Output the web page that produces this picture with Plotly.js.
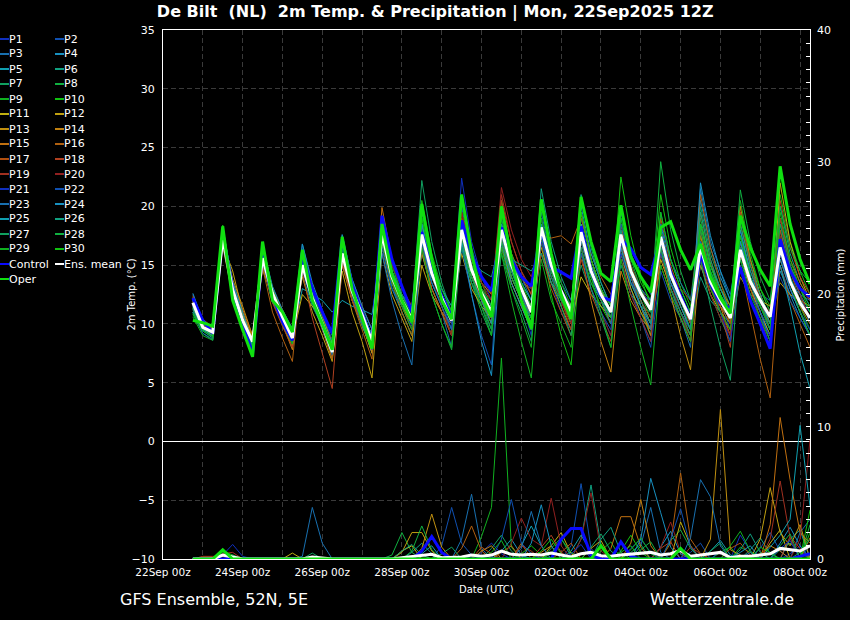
<!DOCTYPE html>
<html><head><meta charset="utf-8">
<script src="https://cdn.plot.ly/plotly-3.0.1.min.js"></script>
<style>html,body{margin:0;padding:0;background:#000;}#chart{width:850px;height:620px;}</style>
</head><body><div id="chart"></div>
<script>
// time grid: GFS 12Z run, 6-hourly from 22Sep 18Z to 08Oct 06Z
const runStart = '2025-09-22T18:00:00Z';
const stepHours = 6;
const nSteps = 63;

const memberNames = ['P1','P2','P3','P4','P5','P6','P7','P8','P9','P10','P11','P12','P13','P14','P15','P16','P17','P18','P19','P20','P21','P22','P23','P24','P25','P26','P27','P28','P29','P30'];
const memberColors = ['#1030c0','#1050b0','#1870b0','#1890c0','#10a0b0','#10a080','#10a060','#10b040','#10b020','#10c010','#c0b010','#c0a010','#c09010','#c08010','#c07010','#b06010','#b05010','#b04020','#a03020','#902020','#1030c0','#1050b0','#1870b0','#1890c0','#10a0b0','#10a080','#10a060','#10b040','#10b020','#10c010'];

// 2m temperature (°C)
const tempP1 = [12.0,9.8,9.0, 17.0,12.5,10.2,8.0, 15.2,12.0,10.0,8.4, 14.6,11.8,9.6,7.2, 15.5,12.2,10.0,7.5, 17.0,13.5,11.5,9.8, 18.5,15.0,12.5,10.5, 22.4,17.0,14.0,12.0, 19.0,15.0,12.0,9.0, 17.0,13.5,11.0,9.5, 16.5,13.0,11.0,9.0, 15.5,12.5,10.5,8.5, 16.0,13.5,12.0,11.0, 18.0,14.5,12.0,9.5, 15.0,12.0,10.5,9.0, 17.0,14.0,12.0,11.0];
const tempP2 = [12.5,10.2,9.5, 17.8,13.2,10.5,8.2, 16.0,12.8,10.8,9.0, 15.5,12.5,10.2,8.0, 16.5,13.0,11.0,8.8, 18.5,14.5,12.0,10.0, 16.5,13.5,11.5,9.5, 17.5,14.0,11.5,9.0, 16.5,14.5,13.5,13.0, 17.5,15.0,13.0,11.5, 19.0,15.5,13.0,10.5, 17.0,13.0,10.5,8.0, 14.5,12.0,10.5,9.0, 15.0,12.5,10.5,8.5, 16.5,14.0,12.5,12.0, 15.0,12.5,11.5,10.5];
const tempP3 = [11.5,9.5,9.2, 17.2,12.8,10.0,8.3, 15.0,11.8,10.4,9.2, 16.8,13.2,10.8,8.2, 17.0,13.8,11.5,9.5, 17.8,13.0,11.5,10.5, 16.0,13.0,11.0,8.0, 20.0,15.5,13.0,11.5, 18.0,15.5,14.0,12.0, 19.5,15.5,12.5,10.0, 17.0,14.0,12.0,10.5, 19.5,16.0,14.0,12.5, 16.5,13.0,10.5,8.0, 21.5,17.0,14.5,12.5, 17.5,14.0,12.0,10.0, 19.0,15.0,12.5,10.0];
const tempP4 = [11.0,9.4,8.8, 16.8,12.2,10.0,7.8, 15.4,12.2,10.2,8.6, 15.2,12.0,10.0,7.8, 16.2,12.6,10.5,8.5, 17.5,14.0,12.0,10.0, 18.0,14.5,12.5,11.0, 17.0,14.0,12.5,11.0, 18.5,15.0,12.5,10.0, 18.0,14.5,12.0,10.0, 16.0,13.5,12.0,11.0, 18.0,15.0,13.0,11.5, 18.5,14.5,12.0,10.0, 20.5,16.5,14.0,12.0, 18.0,14.5,12.0,9.5, 14.5,12.5,10.5,9.0];
const tempP5 = [12.0,10.0,9.4, 17.5,13.0,10.6,8.6, 16.2,12.6,10.5,8.8, 13.0,12.5,12.0,11.0, 12.0,11.5,11.2,10.8, 16.5,13.0,11.0,9.0, 17.0,13.5,11.5,9.0, 18.5,15.0,13.0,11.5, 17.0,14.0,12.0,10.5, 16.0,13.5,12.5,11.5, 18.5,15.0,13.0,11.0, 16.5,13.5,11.5,9.5, 19.5,15.5,13.0,11.0, 17.0,14.0,12.5,11.0, 15.5,13.0,11.0,9.0, 18.0,14.5,12.5,11.0];
const tempP6 = [11.2,9.6,8.9, 18.0,13.5,10.4,7.6, 16.5,12.5,10.8,9.0, 14.2,11.5,9.8,7.5, 15.6,12.0,9.8,7.8, 18.0,14.0,11.5,9.5, 19.0,15.0,12.5,10.5, 16.5,13.5,12.0,10.5, 17.5,14.0,12.0,10.0, 21.5,17.0,14.0,12.0, 18.0,14.5,12.5,10.5, 15.0,12.5,11.5,11.0, 16.0,13.0,11.0,9.0, 14.0,12.0,11.0,10.0, 17.5,14.5,12.5,10.5, 20.0,16.0,13.5,12.0];
const tempP7 = [11.6,10.0,9.6, 18.2,13.4,10.8,8.2, 16.8,13.0,11.0,9.2, 15.8,12.5,10.4,8.4, 16.8,13.2,11.0,8.8, 18.8,15.0,12.5,10.8, 22.2,17.0,13.5,11.0, 19.0,15.0,12.5,10.0, 16.0,13.0,11.0,8.5, 17.5,14.5,12.5,11.0, 15.0,12.5,11.5,11.0, 16.0,13.0,11.0,9.0, 18.0,14.0,11.5,9.5, 20.0,16.0,13.5,11.5, 19.0,15.5,13.0,11.0, 16.0,13.0,11.0,9.5];
const tempP8 = [10.8,9.2,8.7, 17.6,12.6,10.2,7.4, 15.8,12.3,10.4,8.5, 15.4,12.3,10.2,8.0, 16.4,13.0,10.8,8.6, 17.2,13.5,11.0,9.0, 16.5,12.5,10.0,7.8, 17.0,13.5,11.0,9.0, 19.0,15.5,13.5,12.0, 18.5,15.0,12.5,10.5, 19.5,15.5,13.0,11.0, 18.5,15.0,13.0,11.0, 23.8,18.0,14.5,12.0, 19.0,15.0,12.5,10.0, 16.0,13.0,11.5,10.0, 18.5,15.0,13.0,11.5];
const tempP9 = [11.4,9.8,9.1, 18.0,12.8,9.8,7.2, 16.0,12.0,10.2,8.2, 15.0,12.0,9.8,7.4, 15.8,12.5,10.4,8.0, 17.5,14.0,12.0,10.5, 18.0,14.5,12.0,10.0, 18.5,14.5,12.0,9.5, 16.0,12.0,8.5,5.4, 15.5,12.0,10.0,8.0, 17.5,14.0,12.0,10.0, 19.0,15.0,12.5,10.5, 17.0,14.0,12.0,10.5, 15.5,12.5,10.5,8.5, 20.5,16.0,13.0,11.0, 17.5,14.0,11.5,9.5];
const tempP10 = [11.0,9.5,9.0, 18.4,13.0,10.0,7.5, 16.6,12.7,10.6,9.0, 16.0,12.8,10.5,8.2, 17.5,13.5,11.2,9.0, 19.0,15.0,12.5,10.5, 20.5,16.0,13.0,11.0, 21.0,16.5,13.5,11.5, 20.5,16.0,13.0,11.0, 17.0,12.5,9.0,6.5, 16.5,13.5,11.5,10.0, 20.0,16.0,13.5,12.0, 21.0,16.5,13.5,11.5, 17.5,14.5,12.5,11.0, 19.5,15.5,13.0,11.5, 21.0,17.0,14.5,12.5];
const tempP11 = [11.8,9.9,9.3, 17.0,13.0,10.8,8.8, 15.0,12.0,10.4,8.8, 12.5,11.5,10.5,8.5, 15.0,12.0,10.0,7.5, 16.5,13.5,11.5,10.0, 17.5,14.0,12.0,10.5, 16.0,13.0,11.5,10.5, 17.5,14.5,12.5,10.5, 18.0,14.5,12.0,10.0, 14.0,12.5,11.5,10.5, 17.0,14.0,12.0,10.0, 15.5,13.0,11.0,9.5, 18.5,15.0,13.0,11.5, 16.0,13.0,11.0,9.0, 22.0,17.0,14.0,12.0];
const tempP12 = [12.3,10.1,9.5, 16.8,14.5,11.0,8.8, 14.6,12.4,11.0,9.4, 14.0,11.0,9.0,6.8, 14.5,11.0,8.5,5.4, 16.0,12.5,10.5,8.5, 15.0,12.5,11.0,10.0, 17.5,14.0,12.0,10.0, 16.5,13.5,11.5,9.5, 17.0,14.0,12.5,11.5, 19.5,15.5,13.0,11.0, 16.0,13.0,11.0,9.5, 17.5,14.0,12.0,10.0, 15.0,12.5,11.0,9.5, 14.0,12.5,12.0,11.5, 13.5,12.5,12.0,11.5];
const tempP13 = [11.3,9.7,9.2, 17.4,13.8,11.5,9.0, 15.5,12.0,10.0,8.0, 15.0,12.0,9.6,7.0, 16.0,12.5,10.0,7.6, 18.0,14.5,12.5,11.0, 17.0,14.0,12.0,10.5, 19.0,15.5,13.0,11.0, 18.5,15.0,13.0,11.5, 16.5,13.5,11.5,9.5, 18.5,14.5,12.0,10.0, 17.5,14.0,11.5,9.0, 16.5,12.5,9.0,6.1, 16.0,13.0,11.5,10.5, 18.5,15.0,12.5,10.5, 15.5,13.0,11.0,9.0];
const tempP14 = [11.9,9.6,9.0, 16.6,12.4,10.2,7.9, 15.8,12.4,10.0,7.8, 15.6,12.6,10.6,8.6, 16.8,13.0,10.5,8.0, 17.0,13.5,11.5,10.0, 16.0,13.0,11.0,9.0, 18.0,15.0,13.5,12.5, 17.0,14.0,12.0,10.0, 18.5,15.0,12.5,10.5, 16.0,12.0,8.5,5.9, 14.5,12.0,10.5,9.5, 16.5,13.5,11.5,9.5, 17.5,14.0,11.5,9.0, 20.0,15.5,12.5,10.0, 16.5,13.5,11.5,10.0];
const tempP15 = [12.1,10.4,9.7, 17.2,13.5,11.2,9.0, 15.6,13.0,11.2,9.4, 14.8,12.0,10.0,7.8, 17.0,13.5,11.0,8.8, 19.9,15.5,13.0,11.5, 18.5,14.5,12.0,10.0, 17.5,14.0,12.0,10.5, 19.5,16.0,14.0,12.5, 17.5,14.5,12.5,11.0, 17.0,14.0,12.0,10.0, 18.5,14.5,12.0,10.0, 15.0,12.5,10.5,8.5, 16.5,13.5,11.5,10.0, 17.0,14.0,12.0,10.5, 19.0,15.5,13.5,12.0];
const tempP16 = [11.7,9.7,9.1, 17.0,12.6,9.8,7.6, 14.8,11.0,8.8,6.8, 15.2,12.0,9.5,7.0, 15.8,12.0,9.5,7.0, 17.5,13.5,11.0,9.0, 16.5,13.0,11.0,9.0, 18.5,15.0,13.0,11.0, 17.0,13.5,11.5,9.5, 17.5,17.3,17.5,16.8, 19.0,16.0,14.0,12.5, 17.0,14.0,12.0,10.0, 19.0,15.0,12.5,10.5, 21.0,16.5,13.5,11.0, 15.0,11.0,7.0,3.7, 15.0,12.0,10.0,8.0];
const tempP17 = [12.2,10.0,9.3, 17.6,13.2,10.6,8.0, 16.2,12.8,11.0,9.6, 15.6,12.2,9.8,7.4, 16.6,13.0,10.8,8.2, 18.2,14.5,12.0,10.0, 18.5,15.0,12.5,10.5, 19.5,16.0,14.0,12.5, 18.0,14.5,12.5,10.5, 16.0,13.0,11.0,9.0, 17.5,14.5,12.5,11.0, 16.5,13.5,11.5,10.0, 18.0,14.5,12.0,10.0, 19.5,15.5,12.5,10.0, 16.5,13.0,10.5,8.0, 18.0,14.5,12.0,10.5];
const tempP18 = [11.9,9.9,9.4, 17.8,13.0,10.2,7.9, 15.2,11.8,9.8,8.0, 14.4,10.5,7.5,4.5, 15.2,12.0,10.0,7.8, 17.2,14.0,12.0,10.5, 17.5,14.5,12.5,10.5, 18.0,14.5,12.0,10.0, 20.5,17.0,14.5,12.5, 19.0,15.0,12.5,10.5, 15.5,12.5,10.5,8.5, 17.0,14.0,12.0,10.5, 16.0,13.0,11.0,9.0, 18.0,14.0,11.0,8.0, 19.5,15.0,12.0,9.5, 20.5,16.5,14.0,12.5];
const tempP19 = [12.4,10.2,9.6, 17.1,13.0,10.4,8.5, 15.6,12.2,10.4,8.7, 15.0,12.0,10.0,8.0, 16.0,12.8,10.5,8.4, 17.0,13.5,11.5,9.5, 18.0,14.5,12.5,11.0, 17.5,14.5,13.0,12.0, 21.0,17.0,14.5,13.0, 18.0,14.5,12.0,9.5, 18.0,15.0,13.0,11.5, 15.5,12.5,10.5,8.5, 17.5,14.5,13.0,12.0, 16.0,13.0,11.0,9.0, 17.0,13.5,11.0,8.5, 19.0,15.0,12.5,10.5];
const tempP20 = [11.6,9.7,9.2, 17.4,12.8,10.1,7.7, 16.0,12.6,10.6,8.9, 15.3,12.3,10.1,7.9, 16.2,13.5,11.5,9.5, 18.0,15.0,13.0,11.5, 17.5,14.0,11.5,9.0, 19.5,15.5,13.5,12.0, 21.6,18.0,15.5,14.0, 17.0,14.0,12.0,10.0, 16.5,13.0,11.0,9.0, 18.0,15.0,13.0,11.5, 17.0,13.5,11.0,8.5, 15.5,12.5,10.5,9.0, 16.0,13.5,12.0,11.0, 17.5,14.5,13.0,12.0];
const tempP21 = [11.5,9.6,9.2, 17.3,12.9,10.3,8.4, 15.4,12.5,10.8,9.1, 15.9,12.6,10.4,8.1, 16.4,12.8,10.5,8.2, 18.3,14.5,12.5,11.0, 17.0,14.0,12.0,10.0, 18.5,15.0,13.0,11.5, 18.0,14.5,12.5,11.0, 17.0,14.0,12.5,11.0, 17.5,14.5,12.5,11.0, 16.0,13.5,12.5,12.0, 16.5,13.0,11.0,9.5, 16.5,13.5,11.0,8.5, 14.5,12.0,10.5,9.0, 16.0,13.0,11.0,9.5];
const tempP22 = [12.2,10.1,9.4, 17.5,13.2,10.5,8.1, 16.4,12.9,10.8,9.2, 16.4,13.0,10.9,8.6, 17.4,13.5,11.0,8.8, 16.5,13.0,11.5,10.5, 18.0,14.5,12.0,9.5, 16.5,12.5,9.0,6.5, 18.5,15.0,13.0,11.5, 19.0,15.5,13.5,12.0, 16.0,13.0,11.0,9.5, 18.5,15.5,14.0,13.0, 16.0,13.5,12.0,11.0, 17.0,14.0,12.0,10.5, 15.0,12.5,11.0,9.5, 14.0,12.0,10.5,9.0];
const tempP23 = [11.0,9.2,8.6, 16.9,12.5,10.0,7.9, 15.3,12.0,10.2,8.5, 14.8,11.8,9.6,7.4, 16.0,12.5,10.0,7.8, 16.0,12.0,9.0,6.5, 17.0,13.5,11.5,9.5, 18.0,14.5,12.5,11.0, 17.5,14.5,12.5,10.5, 18.5,15.0,12.5,10.5, 17.0,14.0,12.0,10.0, 17.5,14.0,11.5,9.5, 18.5,15.5,13.5,12.0, 17.0,14.0,12.0,10.5, 17.0,13.5,11.0,8.5, 16.5,13.5,12.5,12.0];
const tempP24 = [12.6,10.3,9.7, 18.1,13.6,11.0,8.4, 16.6,13.2,11.2,9.6, 16.8,13.5,11.2,9.0, 17.6,13.8,11.5,9.5, 18.5,14.5,12.0,10.0, 18.5,15.0,12.5,10.5, 17.0,12.5,8.5,5.6, 17.0,13.5,11.5,9.5, 18.5,15.0,12.5,10.5, 20.0,16.0,13.5,11.5, 17.0,14.5,13.0,12.0, 16.5,13.5,11.5,9.5, 22.0,17.5,14.5,12.0, 18.0,14.0,11.5,9.5, 15.5,13.0,11.0,9.0];
const tempP25 = [11.3,9.5,9.0, 17.0,12.7,10.2,8.1, 15.7,12.5,10.6,8.9, 15.5,12.4,10.3,8.3, 16.6,13.2,11.2,9.0, 17.5,14.0,12.0,10.0, 18.5,15.0,13.0,11.5, 17.5,14.0,12.0,10.0, 18.5,15.5,13.5,12.0, 17.5,14.5,12.5,11.0, 18.5,15.0,13.0,11.5, 16.5,13.5,11.5,10.0, 17.5,14.0,12.0,10.5, 18.5,15.0,13.0,11.0, 17.0,14.0,12.0,10.0, 15.0,11.5,7.5,4.5];
const tempP26 = [11.8,9.8,9.3, 17.7,13.1,10.4,8.0, 16.3,12.8,10.7,9.0, 15.1,12.1,10.0,7.7, 16.7,13.2,11.0,9.0, 18.0,14.5,12.5,11.0, 17.5,14.0,12.0,10.5, 18.5,15.5,14.5,14.0, 17.5,15.5,15.0,14.5, 16.0,13.5,12.0,11.5, 21.0,16.5,13.5,11.5, 18.0,14.5,12.0,10.0, 17.0,14.0,12.0,10.5, 19.5,15.5,13.0,11.0, 18.5,15.0,12.5,10.5, 17.0,14.0,12.0,10.5];
const tempP27 = [12.0,10.0,9.4, 17.9,13.0,10.1,7.6, 16.1,12.3,10.3,8.6, 15.7,12.4,10.2,8.0, 17.2,13.2,10.8,8.6, 17.0,14.0,12.5,11.5, 17.5,14.5,12.5,11.0, 16.5,13.5,11.5,9.5, 18.0,14.5,12.0,9.5, 17.5,14.0,11.5,9.0, 16.5,13.0,10.5,8.0, 17.5,14.5,12.5,11.0, 18.0,14.5,12.0,9.5, 15.5,11.5,8.0,5.2, 16.5,13.5,11.5,10.0, 18.5,15.0,13.0,11.5];
const tempP28 = [11.4,9.6,9.1, 18.0,13.3,10.5,7.8, 16.4,12.6,10.5,8.7, 15.4,12.2,10.0,7.8, 16.3,12.8,10.6,8.4, 17.8,14.0,12.0,10.5, 19.5,15.5,13.0,11.0, 18.0,15.0,13.0,11.5, 17.0,14.0,12.0,10.5, 18.0,14.5,12.0,10.5, 17.5,14.0,12.0,10.5, 19.0,15.5,13.0,11.0, 16.5,13.0,11.0,9.0, 18.0,14.5,12.5,11.0, 21.4,17.0,14.0,12.0, 20.0,16.5,14.5,13.5];
const tempP29 = [10.6,9.0,8.6, 17.9,12.6,9.8,7.3, 16.0,12.2,10.0,8.3, 15.7,12.3,9.9,7.6, 16.6,13.0,10.6,8.0, 17.0,13.5,11.5,9.5, 16.5,12.5,10.0,8.0, 17.5,14.0,11.5,9.0, 16.5,13.0,10.5,8.0, 19.0,15.0,12.5,10.5, 18.0,14.0,11.0,8.0, 15.5,11.5,8.0,4.8, 15.0,12.5,10.5,8.5, 16.5,13.0,11.0,9.5, 15.5,12.5,10.5,8.5, 17.0,13.5,11.0,9.0];
const tempP30 = [10.9,9.4,8.9, 18.3,13.2,10.2,7.4, 16.9,12.9,10.8,9.1, 16.2,12.8,10.4,8.1, 17.0,13.4,11.0,8.7, 18.5,14.5,12.0,10.0, 19.0,15.0,12.5,10.5, 20.5,16.0,13.0,11.0, 19.5,16.0,13.5,11.5, 20.0,16.0,13.5,11.5, 19.5,15.5,13.0,11.5, 22.5,17.5,14.0,11.5, 19.5,15.5,13.0,11.0, 18.5,15.0,12.5,10.5, 17.5,14.0,11.5,9.5, 19.5,15.5,13.0,11.0];
const tempControl = [12.2,10.3,9.2, 17.6,13.0,10.0,7.5, 15.8,12.4,10.2,8.6, 15.8,13.0,11.0,9.2, 17.2,13.3,11.0,8.6, 19.2,15.5,13.2,11.0, 17.8,14.5,12.4,10.6, 18.8,16.0,14.0,12.8, 18.2,15.5,14.0,13.2, 18.0,14.8,14.4,13.9, 18.3,14.5,12.3,12.0, 17.2,16.4,14.8,14.2, 17.4,14.4,12.4,10.4, 16.0,13.4,11.8,11.3, 14.8,12.0,10.0,7.9, 17.2,14.5,13.0,12.3];
const tempMean = [11.8,9.7,9.3, 17.3,12.9,10.3,8.5, 15.6,12.6,10.6,8.8, 15.0,12.2,10.0,7.6, 16.0,12.8,10.8,8.5, 17.7,14.0,12.0,10.4, 17.6,14.3,12.2,10.3, 18.0,14.6,12.6,11.0, 18.0,15.0,13.0,11.0, 18.2,15.0,12.8,11.0, 17.8,14.5,12.5,11.0, 17.6,14.5,12.6,11.2, 17.4,14.2,12.2,10.4, 16.6,13.6,12.0,10.5, 16.3,13.6,12.0,10.6, 16.5,13.6,11.8,10.5];
const tempOper = [10.3,10.1,9.8, 18.3,12.0,9.5,7.2, 17.0,12.0,11.0,9.3, 16.3,12.0,10.0,7.8, 17.4,13.0,10.5,7.9, 18.5,14.2,12.0,10.2, 20.2,15.5,12.0,10.4, 21.0,16.0,12.4,10.6, 20.0,15.5,12.0,9.6, 20.6,16.0,12.5,10.4, 20.8,17.0,14.3,13.6, 20.1,15.7,14.0,12.7, 18.2,18.7,16.3,14.6, 16.8,14.0,12.2,10.9, 19.2,16.5,14.6,13.2, 23.4,18.5,15.5,13.4];

// precipitation (mm per 6 h)
const precipP1 = [0,0,0, 0.3,1.1,0.2,0, 0,0,0,0, 0,0,0,0, 0,0,0,0, 0,0,0,0, 0,0,0,0, 0,0,0.5,1.2, 0.4,0,0,0, 0,0,0,0, 0,0,0,0, 0,0.8,1.5,0.5, 0,0,0,0, 0,0,0,0, 1.8,0.6,0,0, 0,0.4,1.0,0];
const precipP2 = [0,0,0, 0,0,0,0, 0,0,0,0, 0,0,0,0, 0,0,0,0, 0,0,0,0, 0,0,1.0,3.9, 1.2,0.3,0,0, 0,0,0,0, 0,0,0,1.0, 5.7,0.8,0,0, 0,0,0,0, 0,0,0,0.5, 1.2,0,0,0, 0,0,0.8,2.0, 0.6,0,0,0];
const precipP3 = [0,0,0, 0,0,0,0, 0,0,0,0, 0.2,3.9,1.2,0, 0,0,0,0, 0,0,0,0, 0,0,0,0, 1.5,4.9,0.8,0, 0,0,0,0, 0,0,0,0, 0,0,0,0, 0,0,1.0,3.9, 0.5,0,0,0, 0,0,0,0, 0,0,0,0, 0,0,2.0,3.0];
const precipP4 = [0,0,0, 0,0,0,0, 0,0,0,0, 0,0,0,0, 0,0,0,0, 0,0,0,0, 0,0,0,0, 0,0,0,0, 0.6,1.5,0.3,0, 0,0,0,0, 0,0,0,0, 0,0,0,0, 0.9,2.1,0.4,0, 0,0,0,0, 0,0,0,0, 1.2,2.4,1.0,0];
const precipP5 = [0,0,0, 0,0,0,0, 0,0,0,0, 0,0,0,0, 0,0,0,0, 0,0,0,0, 0,0,0,0, 0,0,0,0, 0,0,1.0,2.5, 1.0,0,0,0, 0,0,0,0, 0,0,0,0, 0,0,0,0, 0,0.6,1.4,0.3, 0,0,0,0, 0,1.5,2.2,0];
const precipP6 = [0,0,0, 0,0,0,0, 0,0,0,0, 0,0,0,0, 0,0,0,0, 0,0,0,0.5, 1.2,0.4,0,0, 0,0,0,0, 0,0,0,0, 0,0,0,0, 1.5,5.6,1.0,0, 0,0,0,0, 0,0,0,0, 0,0,0,0, 0,0.7,1.6,0.4, 0,0,0,0];
const precipP7 = [0,0,0, 0,0,0,0, 0,0,0,0, 0,0.45,0,0, 0,0,0,0, 0,0,0,0, 0,0,0,0, 0,0,0,0.8, 1.8,0.6,0,0, 0,0,0,0, 0,0,0,0, 0,0.5,1.1,0, 0,0,0,0, 0,0,0,0, 0,0,0,0, 0.7,1.2,0.5,0];
const precipP8 = [0,0,0, 0,0,0,0, 0,0,0,0, 0,0,0,0, 0,0,0,0, 0,0.3,2.0,0.5, 0,0,0,0, 0,0,0,0, 0,0,0,0, 0,0.8,1.6,0.2, 0,0,0,0, 0,0,0,0, 0,1.4,2.2,0.8, 0,0,0,0, 0,0,0,0, 0,0,0,2.6];
const precipP9 = [0,0,0, 0,0,0,0, 0,0,0,0, 0,0,0,0, 0,0,0,0, 0,0,0,0, 0,0,0,0, 0,0,1.7,3.9, 15.2,0.9,0,0, 0,0,0,0, 0,0,0.6,1.3, 0,0,0,0, 0,0,0,0, 0,0,0,0, 0.9,0.5,0,0, 0,0,0,0];
const precipP10 = [0,0,0, 0.2,0,0,0, 0,0,0,0, 0,0,0,0, 0,0,0,0, 0,0,0,0, 0,0,0,0, 0,0,0,0, 0,0,0.4,1.0, 0.3,0,0,0, 0,0,0,0, 0.6,1.8,0.5,0, 0,0,0,0, 0,0,0.5,0.9, 0,0,0,0, 0,0,0,3.7];
const precipP11 = [0,0,0, 0,0,0,0, 0,0,0,0.45, 0,0,0,0, 0,0,0,0, 0,0,0.6,1.0, 0,0,0,0, 0,0,0,0, 0,0,0,0, 0,1.0,2.0,0.4, 0,0,0,0, 0,0,0,0, 0,0,2.8,1.0, 0,0,0,0, 0,0,0,1.2, 2.2,0,0,0];
const precipP12 = [0,0,0, 0,0,0,0, 0,0,0,0, 0,0,0,0, 0,0,0,0, 0,0,0.5,2.0, 2.0,0.6,0,0, 0,0,0,0, 0,0,0,0, 0,0,0,0, 0,0.8,1.4,0, 0,0,0,0, 0,0,0,0, 0,0,0,0, 0,0,1.5,5.4, 2.0,1.0,2.6,0];
const precipP13 = [0,0,0, 0,0,0,0, 0,0,0,0, 0,0,0,0, 0,0,0,0, 0,0,0,0, 0.8,3.4,0.9,0, 0,0,0,0, 0,0,0,0, 0.5,1.0,0,0, 0,0,0,0, 0,0,0,0, 0,0,0,0, 0,1.5,11.3,0.7, 0.3,0,0,0, 0,0,0,0];
const precipP14 = [0,0,0, 0,0,0,0, 0,0,0,0, 0,0,0,0, 0,0,0,0, 0,0,0,0, 0,0,0,0, 0,0,0.6,1.0, 0,0,0,0, 0,0,0,0, 0,0,0,0, 0,1.2,4.5,1.0, 0,0,0,0, 0,0,0,0, 0,0,0.4,1.0, 0.6,0,0,1.6];
const precipP15 = [0,0,0, 0,0,0,0, 0,0,0,0, 0,0,0,0, 0,0,0,0, 0,0,0,0, 0,0,0,0, 0,0,0,0, 0.5,1.0,0,0, 0,0,0,0, 0,0,0,0.8, 3.2,3.2,0.9,0, 0,0,0,0, 0,0,0,0, 0,0,0,2.6, 10.7,6.0,2.0,1.2];
const precipP16 = [0,0,0, 0,0,0,0, 0,0,0,0, 0,0,0,0, 0,0,0,0, 0,0,0,0, 0,0,0,0, 0.8,2.5,0.6,0, 0,0,1.2,0, 0,0,0,0, 0,0,0,0, 0,0,0,0, 0,1.2,6.5,1.5, 0.4,0,0,0, 0,0,0,0, 0,0,0,0];
const precipP17 = [0,0,0, 0.3,0,0,0, 0,0,0,0, 0,0,0,0, 0,0,0,0, 0,0,0,0, 0,0,0,0, 0,0,0.9,0.4, 0,0,0,0, 0,0,0.5,1.2, 0,0,0,0, 0,0,0,0, 0,0,0,0, 0,0,0,0.8, 1.2,0.3,0,0, 0,0,0,0];
const precipP18 = [0,0.2,0.2, 0.2,0,0,0, 0,0,0,0, 0,0,0,0, 0,0,0,0, 0,0,0,0, 0,0,0,0, 0,0,0,0, 0,0,0,0, 0.9,1.8,0.5,0, 0,0,0,0, 0,0,0,0, 0.8,1.3,0,0, 0,0,0,0, 0,0,0,0, 0,1.7,0.8,0];
const precipP19 = [0,0,0, 0.4,0.5,0,0, 0,0,0,0, 0,0,0,0, 0,0,0,0, 0,0,0,0, 0,0,0,0, 0,0,0,0, 0,0,1.0,0.6, 0,0,0,0, 0,0,0,0, 0,0,0,0, 0,0,0,0.9, 0.4,0,0,0, 0,0,0,1.5, 5.9,1.6,0,0];
const precipP20 = [0,0,0, 0,0,0,0, 0,0,0,0, 0,0,0,0, 0,0,0,0, 0,0,0,0, 0,0,0,0, 0,0,0,0, 0,1.2,3.1,1.5, 1.0,4.6,1.0,0, 1.5,5.0,0.6,0, 0,0,0,0, 0.9,2.8,0.5,0, 0,0,0,0, 0,0,0,0, 0,0,1.5,9.0];
const precipP21 = [0,0,0.1, 0,0.3,0,0, 0,0,0,0, 0,0,0,0, 0,0,0,0, 0,0,0,0, 0,0,0,0, 0,0,0,0, 0,0,0,0, 0,0,0,0.4, 1.1,0,0,0, 0,0,0,0, 0,0,0,0, 0,0,0.6,0.2, 0,0,0,0, 0.8,1.4,0,0];
const precipP22 = [0,0,0, 0,0,0,0, 0,0,0,0, 0,0,0,0, 0,0,0,0, 0,0,0,0, 0,0,0,0, 0,0,0,0, 1.5,4.5,1.2,0.4, 0,0,0,0, 0,0,0,0, 0,0,0,0, 0,1.5,3.8,0.9, 0,0,0,0, 0,0,0,0, 0,0,0,1.1];
const precipP23 = [0,0,0, 0,0,0,0, 0,0,0,0, 0,0,0,0, 0,0,0,0, 0,0,0,0, 0,0,0,0, 0,0,0,0, 0,0,0.8,3.6, 1.0,0,0,0, 0,0,0,0, 0,0,0,0, 0,0,0,1.6, 6.0,4.7,1.0,0, 0,0.5,0,0, 0,0,0,0];
const precipP24 = [0,0,0, 0,0,0,0, 0,0,0,0, 0,0,0,0, 0,0,0,0, 0,0,0,0, 0,0,0,0, 0,0,0,0, 0,0,0,1.2, 4.1,1.0,0,0, 0,0,0,0, 0,0,1.5,6.1, 3.5,0.9,0,0, 0,0,0,0, 0.5,1.0,0,0, 0,0,0,0];
const precipP25 = [0,0,0, 0,0,0,0, 0,0,0,0, 0,0,0,0, 0,0,0,0, 0,0,0,0, 0.4,1.0,0,0, 0,0,0,0, 0,0,0,0, 0,0,0,0.6, 1.8,0.5,0,0, 0,0,0,0, 0,0,0,0, 0,0,0,0, 0,0,0,0.9, 1.8,3.0,10.1,4.0];
const precipP26 = [0,0,0, 0,0,0,0, 0,0,0,0, 0,0,0,0, 0,0,0,0, 0,0,0.6,1.1, 0.3,0,0,0, 0,0,0,0, 0,0,0,0, 0,0,0,0, 0,0,1.5,2.4, 0.5,0,0,0, 0,0,0,0, 0,0,0,0, 0.7,1.9,0.5,0, 0,0,0,0];
const precipP27 = [0,0,0, 0,0,0,0, 0,0,0,0, 0,0,0,0, 0,0,0,0, 0,0,0,0, 0,0,0.4,0.9, 0,0,0,0, 0,0,0,0, 0,0,0,0, 0,0.9,1.9,0.6, 0,0,0,0, 0,0,0,0, 0,0.6,1.2,0, 0,0,0,0, 0,0,0.5,1.5];
const precipP28 = [0,0,0, 0,0,0,0, 0,0,0,0, 0,0,0,0, 0,0,0,0, 0,0,0,0.6, 2.5,0.7,0,0, 0,0,0,0, 0,0,0,0, 0,0.4,1.5,0.5, 0,0,0,0, 0,0,0.7,1.3, 0,0,0,0, 0,0,0,0, 0,0,0,0, 1.0,1.9,0,0];
const precipP29 = [0,0,0, 0.5,0.2,0,0, 0,0,0,0, 0,0,0,0, 0,0,0,0, 0,0,0,0, 0,0,0,0, 0,0,0,0.5, 1.4,0,0,0, 0,0,0,0, 0,0,0,0, 0,0.7,1.6,0.4, 0,0,0,0, 0,0,0,1.0, 2.1,0.6,0,0, 0,0,0,0];
const precipP30 = [0,0,0, 0.6,0.3,0,0, 0,0,0,0, 0,0,0,0, 0,0,0,0, 0,0,0,0, 0,0,0,0, 0,0,0,0, 0,0,0,0, 0.6,1.5,0.4,0, 0,0,0,0, 0.5,1.0,0,0, 0,0,0,0, 0,0,0,0, 0,0,0.9,0.5, 0,0,0,2.0];
const precipControl = [0,0,0, 0,0,0,0, 0,0,0,0, 0,0,0,0, 0,0,0,0, 0,0,0,0, 0.6,1.7,0.5,0, 0,0,0,0, 0,0,0,0, 0,0,1.5,2.3, 2.3,0.3,0,0, 1.3,0.2,0,0, 0,0,0,0, 0,0,0,0, 0,0,0,0, 0,0,0.2,0.4];
const precipMean = [0,0,0, 0.3,0.15,0,0, 0,0,0,0, 0,0.15,0.05,0, 0,0,0,0, 0,0,0.1,0.2, 0.25,0.35,0.1,0.15, 0.15,0.3,0.2,0.3, 0.6,0.35,0.3,0.35, 0.3,0.45,0.3,0.15, 0.4,0.5,0.25,0.2, 0.3,0.35,0.4,0.5, 0.3,0.4,0.65,0.2, 0.3,0.4,0.5,0.1, 0.2,0.2,0.3,0.4, 0.8,0.7,0.6,1.0];
const precipOper = [0,0,0, 0.7,0,0,0, 0,0,0,0, 0,0,0,0, 0,0,0,0, 0,0,0,0, 0,0,0,0, 0,0,0,0, 0,0,0,0, 0,0,0,0, 0,0,1.0,0, 0,0,0,0, 0,0,0.8,0, 0,0,0,0, 0,0,0,0, 0,0,0,0];

const memberTemps = [tempP1,tempP2,tempP3,tempP4,tempP5,tempP6,tempP7,tempP8,tempP9,tempP10,tempP11,tempP12,tempP13,tempP14,tempP15,tempP16,tempP17,tempP18,tempP19,tempP20,tempP21,tempP22,tempP23,tempP24,tempP25,tempP26,tempP27,tempP28,tempP29,tempP30];
const memberPrecips = [precipP1,precipP2,precipP3,precipP4,precipP5,precipP6,precipP7,precipP8,precipP9,precipP10,precipP11,precipP12,precipP13,precipP14,precipP15,precipP16,precipP17,precipP18,precipP19,precipP20,precipP21,precipP22,precipP23,precipP24,precipP25,precipP26,precipP27,precipP28,precipP29,precipP30];

const specials = [
  {name:'Control', color:'#0a0aff', temp:tempControl, precip:precipControl},
  {name:'Ens. mean', color:'#ffffff', temp:tempMean, precip:precipMean},
  {name:'Oper', color:'#10e010', temp:tempOper, precip:precipOper}
];

const times = [];
for (let i = 0; i < nSteps; i++) {
  const d = new Date(Date.parse(runStart) + i * stepHours * 3600000);
  times.push(d.toISOString().slice(0,16).replace('T',' '));
}

const traces = [];
memberTemps.forEach((arr,k) => traces.push({x:times, y:arr, type:'scatter', mode:'lines', name:memberNames[k], line:{color:memberColors[k], width:1}, yaxis:'y', hoverinfo:'skip'}));
specials.forEach(s => traces.push({x:times, y:s.temp, type:'scatter', mode:'lines', name:s.name, line:{color:s.color, width:3}, yaxis:'y', hoverinfo:'skip'}));
memberPrecips.forEach((arr,k) => traces.push({x:times, y:arr, type:'scatter', mode:'lines', name:memberNames[k], line:{color:memberColors[k], width:1}, yaxis:'y2', hoverinfo:'skip'}));
specials.forEach(s => traces.push({x:times, y:s.precip, type:'scatter', mode:'lines', name:s.name, line:{color:s.color, width:3}, yaxis:'y2', hoverinfo:'skip'}));

// layout geometry
const L = 163, R = 810, T = 30, B = 559;
const px2x = px => (px - L) / (R - L);
const py2y = py => (B - py) / (B - T);
const FONT = 'DejaVu Sans, sans-serif';

// custom two-column legend
const legendItems = [];
for (let k = 0; k < 30; k++) legendItems.push({name:memberNames[k], color:memberColors[k]});
specials.forEach(s => legendItems.push({name:s.name, color:s.color}));

const annotations = [];
const shapes = [];
legendItems.forEach((it, idx) => {
  const col = idx % 2, row = Math.floor(idx / 2);
  const sx = col === 0 ? 0 : 55;
  const yy = 39 + row * 15;
  shapes.push({type:'line', xref:'paper', yref:'paper', x0:px2x(sx), x1:px2x(sx + 9), y0:py2y(yy), y1:py2y(yy), line:{color:it.color, width:2}});
  annotations.push({xref:'paper', yref:'paper', x:px2x(sx + 8), y:py2y(yy), xanchor:'left', yanchor:'middle', text:it.name, showarrow:false, font:{family:FONT, size:11, color:'#ffffff'}, borderpad:0});
});
// axis titles
annotations.push({xref:'paper', yref:'paper', x:px2x(131), y:py2y(294.5), xanchor:'center', yanchor:'middle', textangle:-90, text:'2m Temp. (°C)', showarrow:false, font:{family:FONT, size:10, color:'#ffffff'}});
annotations.push({xref:'paper', yref:'paper', x:px2x(840), y:py2y(294.5), xanchor:'center', yanchor:'middle', textangle:-90, text:'Precipitation (mm)', showarrow:false, font:{family:FONT, size:10, color:'#ffffff'}});
annotations.push({xref:'paper', yref:'paper', x:0.5, y:py2y(589), xanchor:'center', yanchor:'middle', text:'Date (UTC)', showarrow:false, font:{family:FONT, size:10, color:'#ffffff'}});
// footer
annotations.push({xref:'paper', yref:'paper', x:px2x(118), y:py2y(599), xanchor:'left', yanchor:'middle', text:'GFS Ensemble, 52N, 5E', showarrow:false, font:{family:FONT, size:16, color:'#ffffff'}});
annotations.push({xref:'paper', yref:'paper', x:px2x(648), y:py2y(599), xanchor:'left', yanchor:'middle', text:'Wetterzentrale.de', showarrow:false, font:{family:FONT, size:16, color:'#ffffff'}});

const gridCol = '#3a3a3a';
const layout = {
  width:850, height:620,
  paper_bgcolor:'#000000', plot_bgcolor:'#000000',
  margin:{l:L, r:850-R, t:T, b:620-B, pad:0},
  showlegend:false,
  font:{family:FONT, color:'#ffffff', size:11},
  title:{text:'<b>De Bilt\u00a0 (NL)\u00a0 2m Temp. &amp; Precipitation | Mon, 22Sep2025 12Z</b>', xref:'container', x:0.512, xanchor:'center', yref:'container', y:0.981, yanchor:'middle', font:{family:FONT, size:16, color:'#ffffff'}},
  xaxis:{type:'date', range:['2025-09-22 00:00','2025-10-08 06:00'], tick0:'2025-09-22', dtick:2*86400000, tickformat:'%d%b %Hz',
    showgrid:true, gridcolor:gridCol, griddash:'5px,3px', gridwidth:1,
    minor:{dtick:86400000, tick0:'2025-09-22', showgrid:true, gridcolor:gridCol, griddash:'5px,3px', gridwidth:1},
    showline:true, linecolor:'#ffffff', linewidth:1, mirror:true, ticks:'', zeroline:false, ticklabelstandoff:3,
    tickfont:{family:FONT, size:10.5, color:'#ffffff'}},
  yaxis:{range:[-10,35], tick0:0, dtick:5, showgrid:true, gridcolor:gridCol, griddash:'5px,3px', gridwidth:1,
    zeroline:true, zerolinecolor:'#ffffff', zerolinewidth:1,
    showline:true, linecolor:'#ffffff', linewidth:1, mirror:true, ticks:'', ticklabelstandoff:5,
    tickfont:{family:FONT, size:11, color:'#ffffff'}},
  yaxis2:{range:[0,40], overlaying:'y', side:'right', tick0:0, dtick:10, showgrid:false, zeroline:false, showline:false,
    ticks:'inside', ticklen:4, tickwidth:1, tickcolor:'#ffffff',
    minor:{dtick:1, ticks:'inside', ticklen:4, tickwidth:1, tickcolor:'#ffffff'},
    ticklabelstandoff:6, tickfont:{family:FONT, size:11, color:'#ffffff'}},
  annotations:annotations,
  shapes:shapes
};

Plotly.newPlot('chart', traces, layout, {staticPlot:true, displayModeBar:false});
</script>
</body></html>
